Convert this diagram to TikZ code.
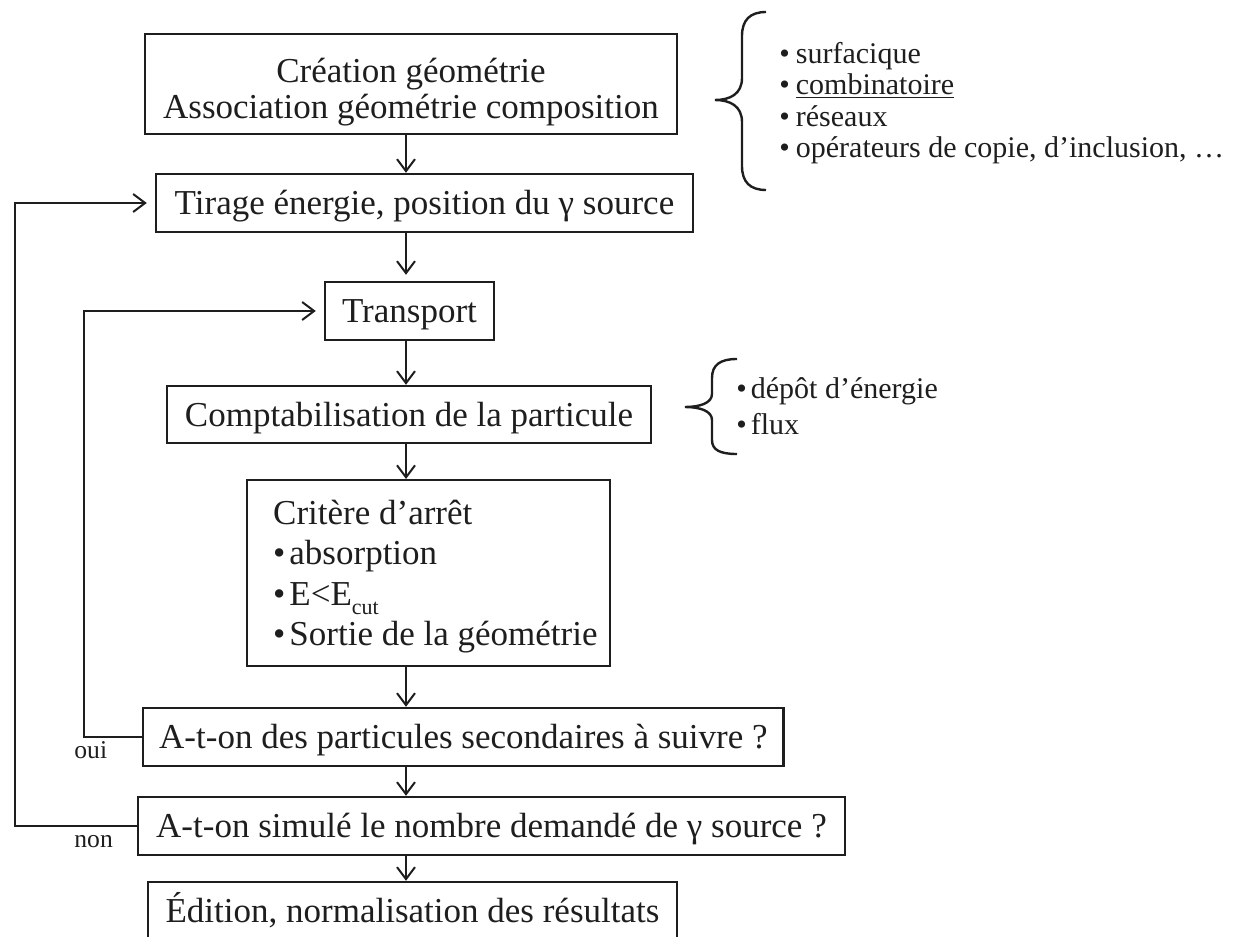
\documentclass[tikz,border=0pt]{standalone}
\usepackage{fontspec}
\setmainfont{Liberation Serif}
\usetikzlibrary{arrows.meta}
\definecolor{ink}{RGB}{30,30,30}
\tikzset{
  boxbase/.style={draw=ink, line width=1.2pt, inner sep=0pt, text=ink,
    font=\fontsize{17.5}{18}\selectfont},
  box/.style={boxbase, text height=16.1pt, text depth=4.2pt},
  conn/.style={draw=ink, line width=1pt, -{Straight Barb[length=6pt,width=9pt,line width=1pt]}},
  bracepath/.style={draw=ink, line width=1.2pt},
  annot/.style={text=ink, font=\fontsize{15}{18}\selectfont, inner sep=0pt, anchor=base west},
  smalllab/.style={text=ink, font=\fontsize{12.8}{15}\selectfont, inner sep=0pt, anchor=base west},
}
\begin{document}
\begin{tikzpicture}[x=0.5pt,y=-0.5pt]
\useasboundingbox (0,0) rectangle (1249,937);
\coordinate (ax) at (406,0);
\coordinate (lx) at (15,0);
\coordinate (ox) at (84,0);

% boxes
\node[boxbase, minimum width=266pt, minimum height=50pt, align=center] (b1) at (411,84)
  {\rule{0pt}{19.85pt}Création géométrie\\Association géométrie composition};
\node[box, minimum width=268.5pt, minimum height=29pt] (b2) at (424.5,203)
  {Tirage énergie, position du γ source};
\node[box, minimum width=84.5pt, minimum height=29pt] (b3) at (409.5,311) {Transport};
\node[box, minimum width=242pt, minimum height=28.5pt] (b4) at (409,414.5)
  {Comptabilisation de la particule};
\node[boxbase, anchor=north west, minimum width=181.5pt, minimum height=93pt,
  font=\fontsize{17.5}{20.25}\selectfont] (b5) at (246,479)
  {\makebox[181.5pt][l]{\hspace{13pt}\begin{tabular}{@{}l@{}}
   \rule{0pt}{18pt}Critère d’arrêt\\
   •\kern2pt absorption\\
   •\kern2pt E<E\raisebox{-4.5pt}{\fontsize{11}{12}\selectfont cut}\\
   •\kern2pt Sortie de la géométrie
   \end{tabular}}};
\node[box, anchor=west, minimum height=29pt, inner xsep=8pt] (b6) at (142,737)
  {A-t-on des particules secondaires à suivre ?};
\node[box, anchor=west, minimum height=29pt, inner xsep=9pt] (b7) at (137,826)
  {A-t-on simulé le nombre demandé de γ source ?};
\node[box, minimum width=264.5pt, minimum height=29pt] (b8) at (412.5,911)
  {Édition, normalisation des résultats};

% main flow
\draw[conn] (b1.south -| ax) -- (b2.north -| ax);
\draw[conn, shorten >=3pt] (b2.south -| ax) -- (b3.north -| ax);
\draw[conn] (b3.south -| ax) -- (b4.north -| ax);
\draw[conn] (b4.south -| ax) -- (b5.north -| ax);
\draw[conn] (b5.south -| ax) -- (b6.north -| ax);
\draw[conn] (b6.south -| ax) -- (b7.north -| ax);
\draw[conn] (b7.south -| ax) -- (b8.north -| ax);

% loops
\draw[conn, shorten >=4pt] (b7.west) -- (b7.west -| lx) |- (b2.west);
\draw[conn, shorten >=4pt] (b6.west) -- (b6.west -| ox) |- (b3.west);
\node[smalllab] (oui) at (74,758) {oui};
\node[smalllab] (non) at (74,847) {non};

% brace 1
\draw[bracepath] (766,12) .. controls (750,12) and (742,20) .. (742,36) -- (742,78)
  .. controls (742,94) and (730,100) .. (715,100)
  .. controls (730,100) and (742,106) .. (742,122) -- (742,166)
  .. controls (742,182) and (750,190) .. (766,190);
\node[annot] (s1) at (779,63) {•\kern3pt surfacique};
\node[annot] (s2) at (779,94) {•\kern3pt \underline{combinatoire}};
\node[annot] (s3) at (779,126) {•\kern3pt réseaux};
\node[annot] (s4) at (779,157) {•\kern3pt opérateurs de copie, d’inclusion, …};

% brace 2
\draw[bracepath] (737,359) .. controls (720,359) and (712,365) .. (712,378) -- (712,394)
  .. controls (712,403) and (700,407) .. (685,407)
  .. controls (700,407) and (712,411) .. (712,420) -- (712,440)
  .. controls (712,450) and (720,454) .. (737,454);
\node[annot] (d1) at (736,398) {•\kern2pt dépôt d’énergie};
\node[annot] (d2) at (736,434) {•\kern2pt flux};
\end{tikzpicture}
\end{document}
